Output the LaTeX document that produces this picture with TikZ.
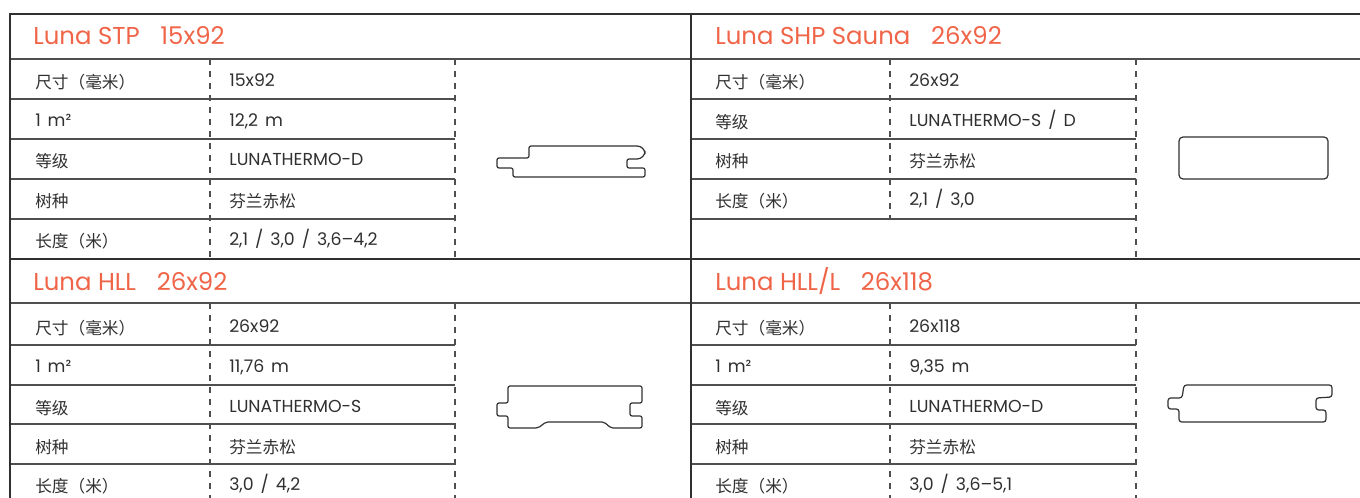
\documentclass[tikz,border=0pt]{standalone}
\usepackage{fontspec}
\setmainfont{Poppins}[WordSpace=1.5, Numbers=Monospaced]
\newfontfamily\titelfont{Poppins}
\newfontfamily\cjk[CharacterWidth=Full]{Noto Sans CJK SC}
\definecolor{titelrot}{RGB}{240,100,72}
\definecolor{strich}{RGB}{48,48,48}
\tikzset{
	titel/.style={
		anchor=base west,
		inner sep=0pt,
		text=titelrot,
		font=\titelfont\fontsize{18.3}{20}\selectfont},
	zelle/.style={
		anchor=base west,
		inner sep=0pt,
		text=strich,
		font=\fontsize{13}{15}\selectfont},
	zh/.style={font=\cjk\fontsize{12.5}{15}\selectfont, yshift=-1.5pt},
	rahmen/.style={draw=strich, line width=1.7pt},
	linie/.style={draw=strich!85, line width=0.9pt},
	strichel/.style={draw=strich!85, line width=0.9pt, dash pattern=on 4.5pt off 4.5pt},
	profil/.style={draw=strich, line width=0.9pt, rounded corners=1.5pt},
}

\begin{document}
\begin{tikzpicture}[x=0.75pt, y=-0.75pt]
	\useasboundingbox (0,0) rectangle (1360,498);
	% rows
	\draw[linie] (10,59) -- (1360,59) (10,303) -- (1360,303);
	\draw[linie] (10,99) -- (455,99) (10,139) -- (455,139) (10,179) -- (455,179) (10,219) -- (455,219);
	\draw[linie] (10,345) -- (455,345) (10,385) -- (455,385) (10,424) -- (455,424) (10,464) -- (455,464);
	\draw[linie] (691,99) -- (1136,99) (691,139) -- (1136,139) (691,179) -- (1136,179) (691,219) -- (1136,219);
	\draw[linie] (691,345) -- (1136,345) (691,385) -- (1136,385) (691,424) -- (1136,424) (691,464) -- (1136,464);
	% columns
	\draw[strichel] (210,59) -- (210,259) (455,59) -- (455,259) (890,59) -- (890,219) (1136,59) -- (1136,259);
	\draw[strichel] (210,303) -- (210,498) (455,303) -- (455,498) (890,303) -- (890,498) (1136,303) -- (1136,498);
	% frame
	\draw[rahmen] (1360,14) -- (10,14) -- (10,498);
	\draw[rahmen] (691,14) -- (691,498) (10,259) -- (1360,259);

	% Luna STP
	\node[titel] (stp) at (33,45) {Luna STP\hspace{0.85em}15x92};
	\node[zelle, zh] (stpeins) at (35,87) {尺寸（毫米）};
	\node[zelle] (stpeinsw) at (229,87) {15x92};
	\node[zelle] (stpzwei) at (35,126.5) {1 m²};
	\node[zelle] (stpzweiw) at (229,126.5) {12,2 m};
	\node[zelle, zh] (stpdrei) at (35,166) {等级};
	\node[zelle] (stpdreiw) at (229,166) {LUNATHERMO-D};
	\node[zelle, zh] (stpvier) at (35,206) {树种};
	\node[zelle, zh] (stpvierw) at (229,206) {芬兰赤松};
	\node[zelle, zh] (stpfuenf) at (35,245.5) {长度（米）};
	\node[zelle] (stpfuenfw) at (229,245.5) {2,1 / 3,0 / 3,6–4,2};
	\draw[profil] (497,158) -- (529,158) -- (529,146) [rounded corners=6pt] -- (645,146) -- (645,159)
		[rounded corners=1.5pt] -- (627,159) -- (627,168) -- (645,168) -- (645,177) -- (513,177)
		-- (513,168) -- (497,168) -- cycle;

	% Luna SHP Sauna
	\node[titel] (shp) at (715,45) {Luna SHP Sauna\hspace{0.85em}26x92};
	\node[zelle, zh] (shpeins) at (715,87) {尺寸（毫米）};
	\node[zelle] (shpeinsw) at (909,87) {26x92};
	\node[zelle, zh] (shpzwei) at (715,126.5) {等级};
	\node[zelle] (shpzweiw) at (909,126.5) {LUNATHERMO-S / D};
	\node[zelle, zh] (shpdrei) at (715,166) {树种};
	\node[zelle, zh] (shpdreiw) at (909,166) {芬兰赤松};
	\node[zelle, zh] (shpvier) at (715,206) {长度（米）};
	\node[zelle] (shpvierw) at (909,206) {2,1 / 3,0};
	\draw[profil, rounded corners=3pt] (1179,137) rectangle (1328,179);

	% Luna HLL
	\node[titel] (hll) at (33,290.5) {Luna HLL\hspace{0.85em}26x92};
	\node[zelle, zh] (hlleins) at (35,332.5) {尺寸（毫米）};
	\node[zelle] (hlleinsw) at (229,332.5) {26x92};
	\node[zelle] (hllzwei) at (35,372.5) {1 m²};
	\node[zelle] (hllzweiw) at (229,372.5) {11,76 m};
	\node[zelle, zh] (hlldrei) at (35,412.5) {等级};
	\node[zelle] (hlldreiw) at (229,412.5) {LUNATHERMO-S};
	\node[zelle, zh] (hllvier) at (35,452) {树种};
	\node[zelle, zh] (hllvierw) at (229,452) {芬兰赤松};
	\node[zelle, zh] (hllfuenf) at (35,491) {长度（米）};
	\node[zelle] (hllfuenfw) at (229,491) {3,0 / 4,2};
	\draw[profil] (508,386) -- (642,386) -- (642,403) -- (630,403) -- (630,416) -- (642,416) -- (642,428)
		-- (611,428) -- (604,422) -- (546,422) -- (538,428) -- (508,428) -- (508,416) -- (497,416)
		-- (497,403) -- (508,403) -- cycle;

	% Luna HLL/L
	\node[titel] (hlll) at (715,290.5) {Luna HLL/L\hspace{0.85em}26x118};
	\node[zelle, zh] (hllleins) at (715,332.5) {尺寸（毫米）};
	\node[zelle] (hllleinsw) at (909,332.5) {26x118};
	\node[zelle] (hlllzwei) at (715,372.5) {1 m²};
	\node[zelle] (hlllzweiw) at (909,372.5) {9,35 m};
	\node[zelle, zh] (hllldrei) at (715,412.5) {等级};
	\node[zelle] (hllldreiw) at (909,412.5) {LUNATHERMO-D};
	\node[zelle, zh] (hlllvier) at (715,452) {树种};
	\node[zelle, zh] (hlllvierw) at (909,452) {芬兰赤松};
	\node[zelle, zh] (hlllfuenf) at (715,491) {长度（米）};
	\node[zelle] (hlllfuenfw) at (909,491) {3,0 / 3,6–5,1};
	\draw[profil, rounded corners=2pt] (1184,385) -- (1332,385) -- (1332,397) -- (1316,398) -- (1316,410)
		-- (1326,410) -- (1326,422) -- (1179,422) -- (1179,409) -- (1168,409) -- (1168,398)
		-- (1182,398) -- cycle;
\end{tikzpicture}
\end{document}
